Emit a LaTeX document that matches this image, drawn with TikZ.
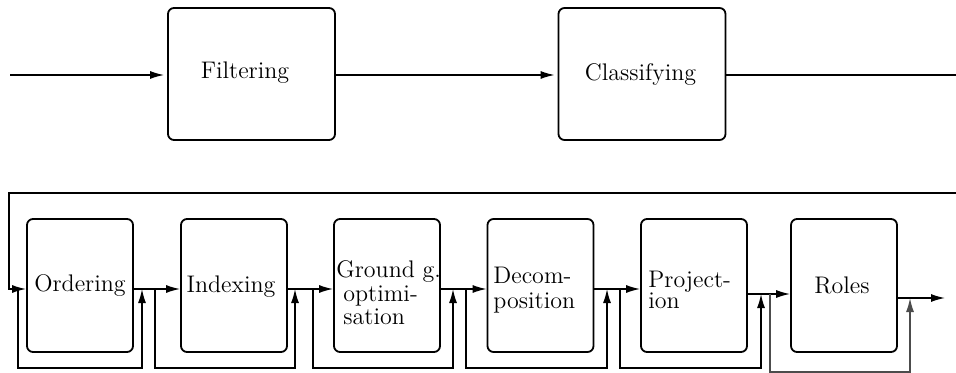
\documentclass[tikz,border=0pt]{standalone}
\usetikzlibrary{arrows.meta}
\begin{document}
\begin{tikzpicture}[x=0.5pt,y=-0.5pt,
  topbox/.style={draw,rounded corners=3pt,line width=0.9pt,inner sep=0pt,
     minimum width=83.5pt,minimum height=66pt,font=\large},
  lowbox/.style={draw,rounded corners=3pt,line width=0.9pt,inner sep=0pt,
     minimum width=53pt,minimum height=66.5pt,font=\large},
  txt/.style={inner sep=0pt,font=\large,align=left,anchor=west},
  conn/.style={line width=0.7pt},
  arr/.style={conn,-{Latex[length=7pt,width=4pt]}}]
\useasboundingbox (0,0) rectangle (956,373);
% top row
\node[topbox] (filt) at (251.5,74) {};
\node[topbox] (clas) at (642,74) {};
\node[inner sep=0pt,font=\large] (tfilt) at (245,73) {Filtering};
\node[inner sep=0pt,font=\large] (tclas) at (640.5,75) {Classifying};
\coordinate (in) at (10,75);
\coordinate (outtop) at (956,75);
\draw[arr] (in) -- ([xshift=-1.5pt]filt.west |- in);
\draw[arr] (filt.east |- in) -- ([xshift=-1.5pt]clas.west |- in);
\draw[conn] (clas.east |- in) -- (outtop);
% bottom row
\node[lowbox] (ord) at (80,285.5) {Ordering};
\node[lowbox] (idx) at (234,285.5) {};
\node[lowbox] (grd) at (387,285.5) {};
\node[lowbox] (dec) at (540.5,285.5) {};
\node[lowbox] (prj) at (694,285.5) {};
\node[lowbox] (rol) at (844,285.5) {};
\node[inner sep=0pt,font=\large] (tidx) at (231,287) {Indexing};
\node[inner sep=0pt,font=\large] (trol) at (842,285) {Roles};
\node[txt] (tgrd) at (343,293) {\hspace*{-3.5pt}Ground g.\\[-2.25pt]optimi-\\[-2.25pt]sation};
\node[txt] (tdec) at (493,290) {Decom-\\[-1.5pt]position};
\node[txt] (tprj) at (648,290) {Project-\\[-3.5pt]ion};
% feedback line from the top row
\coordinate (fbr) at (956,193);
\coordinate (fbl) at (9,193);
\coordinate (y1) at (0,289);
\coordinate (y5) at (0,294);
\coordinate (y6) at (0,298);
\coordinate (fin) at (945,298);
\draw[arr] (fbr) -- (fbl) |- (ord.west |- y1);
% main chain
\draw[arr] (ord.east |- y1) -- (idx.west |- y1);
\draw[arr] (idx.east |- y1) -- (grd.west |- y1);
\draw[arr] (grd.east |- y1) -- (dec.west |- y1);
\draw[arr] (dec.east |- y1) -- (prj.west |- y1);
\draw[arr] (prj.east |- y5) -- (rol.west |- y5);
\draw[arr] (rol.east |- y6) -- (fin);
% bypass loops
\coordinate (s1) at (18,289);  \coordinate (e1) at (142,289);
\coordinate (s2) at (155,289); \coordinate (e2) at (295,289);
\coordinate (s3) at (313,289); \coordinate (e3) at (453,289);
\coordinate (s4) at (466,289); \coordinate (e4) at (607,289);
\coordinate (s5) at (620,289); \coordinate (e5) at (761,294);
\coordinate (s6) at (770,294); \coordinate (e6) at (910,298);
\draw[arr] (s1) -- (18,368) -| (e1);
\draw[arr] (s2) -- (155,368) -| (e2);
\draw[arr] (s3) -- (313,368) -| (e3);
\draw[arr] (s4) -- (466,368) -| (e4);
\draw[arr] (s5) -- (620,368) -| (e5);
\draw[arr,black!70] (s6) -- (770,372) -| (e6);
\end{tikzpicture}
\end{document}
